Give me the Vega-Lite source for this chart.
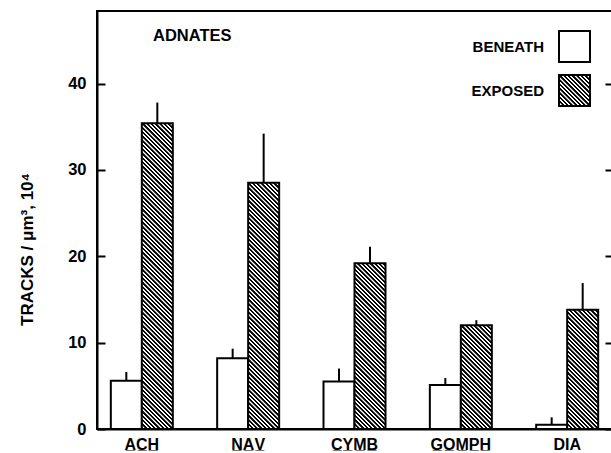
{
  "$schema": "https://vega.github.io/schema/vega-lite/v6.json",
  "width": 515,
  "height": 418,
  "autosize": "none",
  "padding": {"left": 97, "top": 11, "right": 0, "bottom": 24},
  "background": "white",
  "config": {"view": {"stroke": "black", "strokeWidth": 2}, "font": "Liberation Sans"},
  "title": {"text": "ADNATES", "anchor": "start", "frame": "group", "orient": "top", "offset": 0, "baseline": "alphabetic", "dx": 56, "dy": 46, "font": "Liberation Sans", "fontSize": 16.5, "fontWeight": "bold", "color": "black"},
  "params": [
    {"name": "hs", "value": [
      {"offset":0,"color":"#000"},{"offset":0.0055,"color":"#000"},{"offset":0.0068,"color":"#fff"},{"offset":0.0112,"color":"#fff"},
      {"offset":0.0125,"color":"#000"},{"offset":0.018,"color":"#000"},{"offset":0.0193,"color":"#fff"},{"offset":0.0237,"color":"#fff"},
      {"offset":0.025,"color":"#000"},{"offset":0.0305,"color":"#000"},{"offset":0.0318,"color":"#fff"},{"offset":0.0362,"color":"#fff"},
      {"offset":0.0375,"color":"#000"},{"offset":0.043,"color":"#000"},{"offset":0.0443,"color":"#fff"},{"offset":0.0487,"color":"#fff"},
      {"offset":0.05,"color":"#000"},{"offset":0.0555,"color":"#000"},{"offset":0.0568,"color":"#fff"},{"offset":0.0612,"color":"#fff"},
      {"offset":0.0625,"color":"#000"},{"offset":0.068,"color":"#000"},{"offset":0.0693,"color":"#fff"},{"offset":0.0737,"color":"#fff"},
      {"offset":0.075,"color":"#000"},{"offset":0.0805,"color":"#000"},{"offset":0.0818,"color":"#fff"},{"offset":0.0862,"color":"#fff"},
      {"offset":0.0875,"color":"#000"},{"offset":0.093,"color":"#000"},{"offset":0.0943,"color":"#fff"},{"offset":0.0987,"color":"#fff"},
      {"offset":0.1,"color":"#000"},{"offset":0.1055,"color":"#000"},{"offset":0.1068,"color":"#fff"},{"offset":0.1112,"color":"#fff"},
      {"offset":0.1125,"color":"#000"},{"offset":0.118,"color":"#000"},{"offset":0.1193,"color":"#fff"},{"offset":0.1237,"color":"#fff"},
      {"offset":0.125,"color":"#000"},{"offset":0.1305,"color":"#000"},{"offset":0.1318,"color":"#fff"},{"offset":0.1362,"color":"#fff"},
      {"offset":0.1375,"color":"#000"},{"offset":0.143,"color":"#000"},{"offset":0.1443,"color":"#fff"},{"offset":0.1487,"color":"#fff"},
      {"offset":0.15,"color":"#000"},{"offset":0.1555,"color":"#000"},{"offset":0.1568,"color":"#fff"},{"offset":0.1612,"color":"#fff"},
      {"offset":0.1625,"color":"#000"},{"offset":0.168,"color":"#000"},{"offset":0.1693,"color":"#fff"},{"offset":0.1737,"color":"#fff"},
      {"offset":0.175,"color":"#000"},{"offset":0.1805,"color":"#000"},{"offset":0.1818,"color":"#fff"},{"offset":0.1862,"color":"#fff"},
      {"offset":0.1875,"color":"#000"},{"offset":0.193,"color":"#000"},{"offset":0.1943,"color":"#fff"},{"offset":0.1987,"color":"#fff"},
      {"offset":0.2,"color":"#000"},{"offset":0.2055,"color":"#000"},{"offset":0.2068,"color":"#fff"},{"offset":0.2112,"color":"#fff"},
      {"offset":0.2125,"color":"#000"},{"offset":0.218,"color":"#000"},{"offset":0.2193,"color":"#fff"},{"offset":0.2237,"color":"#fff"},
      {"offset":0.225,"color":"#000"},{"offset":0.2305,"color":"#000"},{"offset":0.2318,"color":"#fff"},{"offset":0.2362,"color":"#fff"},
      {"offset":0.2375,"color":"#000"},{"offset":0.243,"color":"#000"},{"offset":0.2443,"color":"#fff"},{"offset":0.2487,"color":"#fff"},
      {"offset":0.25,"color":"#000"},{"offset":0.2555,"color":"#000"},{"offset":0.2568,"color":"#fff"},{"offset":0.2612,"color":"#fff"},
      {"offset":0.2625,"color":"#000"},{"offset":0.268,"color":"#000"},{"offset":0.2693,"color":"#fff"},{"offset":0.2737,"color":"#fff"},
      {"offset":0.275,"color":"#000"},{"offset":0.2805,"color":"#000"},{"offset":0.2818,"color":"#fff"},{"offset":0.2862,"color":"#fff"},
      {"offset":0.2875,"color":"#000"},{"offset":0.293,"color":"#000"},{"offset":0.2943,"color":"#fff"},{"offset":0.2987,"color":"#fff"},
      {"offset":0.3,"color":"#000"},{"offset":0.3055,"color":"#000"},{"offset":0.3068,"color":"#fff"},{"offset":0.3112,"color":"#fff"},
      {"offset":0.3125,"color":"#000"},{"offset":0.318,"color":"#000"},{"offset":0.3193,"color":"#fff"},{"offset":0.3237,"color":"#fff"},
      {"offset":0.325,"color":"#000"},{"offset":0.3305,"color":"#000"},{"offset":0.3318,"color":"#fff"},{"offset":0.3362,"color":"#fff"},
      {"offset":0.3375,"color":"#000"},{"offset":0.343,"color":"#000"},{"offset":0.3443,"color":"#fff"},{"offset":0.3487,"color":"#fff"},
      {"offset":0.35,"color":"#000"},{"offset":0.3555,"color":"#000"},{"offset":0.3568,"color":"#fff"},{"offset":0.3612,"color":"#fff"},
      {"offset":0.3625,"color":"#000"},{"offset":0.368,"color":"#000"},{"offset":0.3693,"color":"#fff"},{"offset":0.3737,"color":"#fff"},
      {"offset":0.375,"color":"#000"},{"offset":0.3805,"color":"#000"},{"offset":0.3818,"color":"#fff"},{"offset":0.3862,"color":"#fff"},
      {"offset":0.3875,"color":"#000"},{"offset":0.393,"color":"#000"},{"offset":0.3943,"color":"#fff"},{"offset":0.3987,"color":"#fff"},
      {"offset":0.4,"color":"#000"},{"offset":0.4055,"color":"#000"},{"offset":0.4068,"color":"#fff"},{"offset":0.4112,"color":"#fff"},
      {"offset":0.4125,"color":"#000"},{"offset":0.418,"color":"#000"},{"offset":0.4193,"color":"#fff"},{"offset":0.4237,"color":"#fff"},
      {"offset":0.425,"color":"#000"},{"offset":0.4305,"color":"#000"},{"offset":0.4318,"color":"#fff"},{"offset":0.4362,"color":"#fff"},
      {"offset":0.4375,"color":"#000"},{"offset":0.443,"color":"#000"},{"offset":0.4443,"color":"#fff"},{"offset":0.4487,"color":"#fff"},
      {"offset":0.45,"color":"#000"},{"offset":0.4555,"color":"#000"},{"offset":0.4568,"color":"#fff"},{"offset":0.4612,"color":"#fff"},
      {"offset":0.4625,"color":"#000"},{"offset":0.468,"color":"#000"},{"offset":0.4693,"color":"#fff"},{"offset":0.4737,"color":"#fff"},
      {"offset":0.475,"color":"#000"},{"offset":0.4805,"color":"#000"},{"offset":0.4818,"color":"#fff"},{"offset":0.4862,"color":"#fff"},
      {"offset":0.4875,"color":"#000"},{"offset":0.493,"color":"#000"},{"offset":0.4943,"color":"#fff"},{"offset":0.4987,"color":"#fff"},
      {"offset":0.5,"color":"#000"},{"offset":0.5055,"color":"#000"},{"offset":0.5068,"color":"#fff"},{"offset":0.5112,"color":"#fff"},
      {"offset":0.5125,"color":"#000"},{"offset":0.518,"color":"#000"},{"offset":0.5193,"color":"#fff"},{"offset":0.5237,"color":"#fff"},
      {"offset":0.525,"color":"#000"},{"offset":0.5305,"color":"#000"},{"offset":0.5318,"color":"#fff"},{"offset":0.5362,"color":"#fff"},
      {"offset":0.5375,"color":"#000"},{"offset":0.543,"color":"#000"},{"offset":0.5443,"color":"#fff"},{"offset":0.5487,"color":"#fff"},
      {"offset":0.55,"color":"#000"},{"offset":0.5555,"color":"#000"},{"offset":0.5568,"color":"#fff"},{"offset":0.5612,"color":"#fff"},
      {"offset":0.5625,"color":"#000"},{"offset":0.568,"color":"#000"},{"offset":0.5693,"color":"#fff"},{"offset":0.5737,"color":"#fff"},
      {"offset":0.575,"color":"#000"},{"offset":0.5805,"color":"#000"},{"offset":0.5818,"color":"#fff"},{"offset":0.5862,"color":"#fff"},
      {"offset":0.5875,"color":"#000"},{"offset":0.593,"color":"#000"},{"offset":0.5943,"color":"#fff"},{"offset":0.5987,"color":"#fff"},
      {"offset":0.6,"color":"#000"},{"offset":0.6055,"color":"#000"},{"offset":0.6068,"color":"#fff"},{"offset":0.6112,"color":"#fff"},
      {"offset":0.6125,"color":"#000"},{"offset":0.618,"color":"#000"},{"offset":0.6193,"color":"#fff"},{"offset":0.6237,"color":"#fff"},
      {"offset":0.625,"color":"#000"},{"offset":0.6305,"color":"#000"},{"offset":0.6318,"color":"#fff"},{"offset":0.6362,"color":"#fff"},
      {"offset":0.6375,"color":"#000"},{"offset":0.643,"color":"#000"},{"offset":0.6443,"color":"#fff"},{"offset":0.6487,"color":"#fff"},
      {"offset":0.65,"color":"#000"},{"offset":0.6555,"color":"#000"},{"offset":0.6568,"color":"#fff"},{"offset":0.6612,"color":"#fff"},
      {"offset":0.6625,"color":"#000"},{"offset":0.668,"color":"#000"},{"offset":0.6693,"color":"#fff"},{"offset":0.6737,"color":"#fff"},
      {"offset":0.675,"color":"#000"},{"offset":0.6805,"color":"#000"},{"offset":0.6818,"color":"#fff"},{"offset":0.6862,"color":"#fff"},
      {"offset":0.6875,"color":"#000"},{"offset":0.693,"color":"#000"},{"offset":0.6943,"color":"#fff"},{"offset":0.6987,"color":"#fff"},
      {"offset":0.7,"color":"#000"},{"offset":0.7055,"color":"#000"},{"offset":0.7068,"color":"#fff"},{"offset":0.7112,"color":"#fff"},
      {"offset":0.7125,"color":"#000"},{"offset":0.718,"color":"#000"},{"offset":0.7193,"color":"#fff"},{"offset":0.7237,"color":"#fff"},
      {"offset":0.725,"color":"#000"},{"offset":0.7305,"color":"#000"},{"offset":0.7318,"color":"#fff"},{"offset":0.7362,"color":"#fff"},
      {"offset":0.7375,"color":"#000"},{"offset":0.743,"color":"#000"},{"offset":0.7443,"color":"#fff"},{"offset":0.7487,"color":"#fff"},
      {"offset":0.75,"color":"#000"},{"offset":0.7555,"color":"#000"},{"offset":0.7568,"color":"#fff"},{"offset":0.7612,"color":"#fff"},
      {"offset":0.7625,"color":"#000"},{"offset":0.768,"color":"#000"},{"offset":0.7693,"color":"#fff"},{"offset":0.7737,"color":"#fff"},
      {"offset":0.775,"color":"#000"},{"offset":0.7805,"color":"#000"},{"offset":0.7818,"color":"#fff"},{"offset":0.7862,"color":"#fff"},
      {"offset":0.7875,"color":"#000"},{"offset":0.793,"color":"#000"},{"offset":0.7943,"color":"#fff"},{"offset":0.7987,"color":"#fff"},
      {"offset":0.8,"color":"#000"},{"offset":0.8055,"color":"#000"},{"offset":0.8068,"color":"#fff"},{"offset":0.8112,"color":"#fff"},
      {"offset":0.8125,"color":"#000"},{"offset":0.818,"color":"#000"},{"offset":0.8193,"color":"#fff"},{"offset":0.8237,"color":"#fff"},
      {"offset":0.825,"color":"#000"},{"offset":0.8305,"color":"#000"},{"offset":0.8318,"color":"#fff"},{"offset":0.8362,"color":"#fff"},
      {"offset":0.8375,"color":"#000"},{"offset":0.843,"color":"#000"},{"offset":0.8443,"color":"#fff"},{"offset":0.8487,"color":"#fff"},
      {"offset":0.85,"color":"#000"},{"offset":0.8555,"color":"#000"},{"offset":0.8568,"color":"#fff"},{"offset":0.8612,"color":"#fff"},
      {"offset":0.8625,"color":"#000"},{"offset":0.868,"color":"#000"},{"offset":0.8693,"color":"#fff"},{"offset":0.8737,"color":"#fff"},
      {"offset":0.875,"color":"#000"},{"offset":0.8805,"color":"#000"},{"offset":0.8818,"color":"#fff"},{"offset":0.8862,"color":"#fff"},
      {"offset":0.8875,"color":"#000"},{"offset":0.893,"color":"#000"},{"offset":0.8943,"color":"#fff"},{"offset":0.8987,"color":"#fff"},
      {"offset":0.9,"color":"#000"},{"offset":0.9055,"color":"#000"},{"offset":0.9068,"color":"#fff"},{"offset":0.9112,"color":"#fff"},
      {"offset":0.9125,"color":"#000"},{"offset":0.918,"color":"#000"},{"offset":0.9193,"color":"#fff"},{"offset":0.9237,"color":"#fff"},
      {"offset":0.925,"color":"#000"},{"offset":0.9305,"color":"#000"},{"offset":0.9318,"color":"#fff"},{"offset":0.9362,"color":"#fff"},
      {"offset":0.9375,"color":"#000"},{"offset":0.943,"color":"#000"},{"offset":0.9443,"color":"#fff"},{"offset":0.9487,"color":"#fff"},
      {"offset":0.95,"color":"#000"},{"offset":0.9555,"color":"#000"},{"offset":0.9568,"color":"#fff"},{"offset":0.9612,"color":"#fff"},
      {"offset":0.9625,"color":"#000"},{"offset":0.968,"color":"#000"},{"offset":0.9693,"color":"#fff"},{"offset":0.9737,"color":"#fff"},
      {"offset":0.975,"color":"#000"},{"offset":0.9805,"color":"#000"},{"offset":0.9818,"color":"#fff"},{"offset":0.9862,"color":"#fff"},
      {"offset":0.9875,"color":"#000"},{"offset":0.993,"color":"#000"},{"offset":0.9943,"color":"#fff"},{"offset":1,"color":"#fff"}
    ]}
  ],
  "data": {"values": [
    {"taxon": "ACH", "exposure": "BENEATH", "mean": 5.6, "upper": 6.6},
    {"taxon": "ACH", "exposure": "EXPOSED", "mean": 35.4, "upper": 37.8},
    {"taxon": "NAV", "exposure": "BENEATH", "mean": 8.2, "upper": 9.3},
    {"taxon": "NAV", "exposure": "EXPOSED", "mean": 28.5, "upper": 34.2},
    {"taxon": "CYMB", "exposure": "BENEATH", "mean": 5.5, "upper": 7.0},
    {"taxon": "CYMB", "exposure": "EXPOSED", "mean": 19.2, "upper": 21.1},
    {"taxon": "GOMPH", "exposure": "BENEATH", "mean": 5.1, "upper": 5.9},
    {"taxon": "GOMPH", "exposure": "EXPOSED", "mean": 12.0, "upper": 12.6},
    {"taxon": "DIA", "exposure": "BENEATH", "mean": 0.5, "upper": 1.35},
    {"taxon": "DIA", "exposure": "EXPOSED", "mean": 13.8, "upper": 16.9}
  ]},
  "encoding": {
    "x": {
      "field": "taxon", "type": "nominal",
      "sort": ["ACH", "NAV", "CYMB", "GOMPH", "DIA"],
      "scale": {"paddingInner": 0.417, "paddingOuter": 0.13},
      "axis": {
        "title": null, "ticks": false, "labelAngle": 0, "labelPadding": 7,
        "domainColor": "black", "domainWidth": 2,
        "labelFont": "Liberation Sans", "labelFontSize": 16, "labelFontWeight": "bold", "labelColor": "black",
        "labelExpr": "datum.value === 'DIA' ? datum.value : replace(datum.value, regexp('(.)', 'g'), '$1\u0332')"
      }
    },
    "xOffset": {
      "field": "exposure", "type": "nominal",
      "sort": ["BENEATH", "EXPOSED"],
      "scale": {"paddingInner": 0, "paddingOuter": 0}
    }
  },
  "layer": [
    {
      "mark": {"type": "bar", "stroke": "black", "strokeWidth": 2},
      "encoding": {
        "y": {
          "field": "mean", "type": "quantitative",
          "scale": {"domain": [0, 48.4], "nice": false},
          "axis": {
            "title": "TRACKS / μm³, 10⁴", "values": [0, 10, 20, 30, 40], "grid": false,
            "domainColor": "black", "domainWidth": 2,
            "tickColor": "black", "tickWidth": 2, "tickSize": -8, "labelPadding": 19,
            "labelFont": "Liberation Sans", "labelFontSize": 16.5, "labelFontWeight": "bold", "labelColor": "black",
            "titleFont": "Liberation Sans", "titleFontSize": 17, "titleFontWeight": "bold", "titleColor": "black",
            "titleX": -70, "titleY": 238, "titleAngle": -90, "titleAlign": "center", "titleBaseline": "middle"
          }
        },
        "stroke": {"value": "black"},
        "fill": {
          "field": "exposure", "type": "nominal",
          "scale": {
            "domain": ["BENEATH", "EXPOSED"],
            "range": ["white", {"expr": "{gradient: 'linear', x1: 0, y1: 1, x2: 5.55, y2: -4.55, stops: hs}"}]
          },
          "condition": {
            "test": "datum.exposure === 'EXPOSED'",
            "value": {"expr": "{gradient: 'linear', x1: 0, y1: 1, x2: 11.1/(1+pow(datum.mean*0.2787,2)), y2: 1-11.1*datum.mean*0.2787/(1+pow(datum.mean*0.2787,2)), stops: hs}"}
          },
          "legend": {
            "title": null, "orient": "none", "legendX": 461, "legendY": 19, "padding": 0,
            "symbolType": "square", "symbolSize": 961, "symbolStrokeColor": "black", "symbolStrokeWidth": 2,
            "labelAlign": "right", "labelOffset": -47,
            "labelFont": "Liberation Sans", "labelFontSize": 15, "labelFontWeight": "bold", "labelColor": "black",
            "rowPadding": 5
          }
        }
      }
    },
    {
      "mark": {"type": "rule", "color": "black", "strokeWidth": 2},
      "encoding": {
        "y": {
          "field": "mean", "type": "quantitative",
          "axis": {
            "orient": "right", "values": [0, 10, 20, 30, 40], "labels": false, "title": null, "grid": false,
            "domain": false, "tickColor": "black", "tickWidth": 2, "tickSize": -7
          }
        },
        "y2": {"field": "upper"}
      }
    }
  ],
  "resolve": {"axis": {"y": "independent"}}
}
